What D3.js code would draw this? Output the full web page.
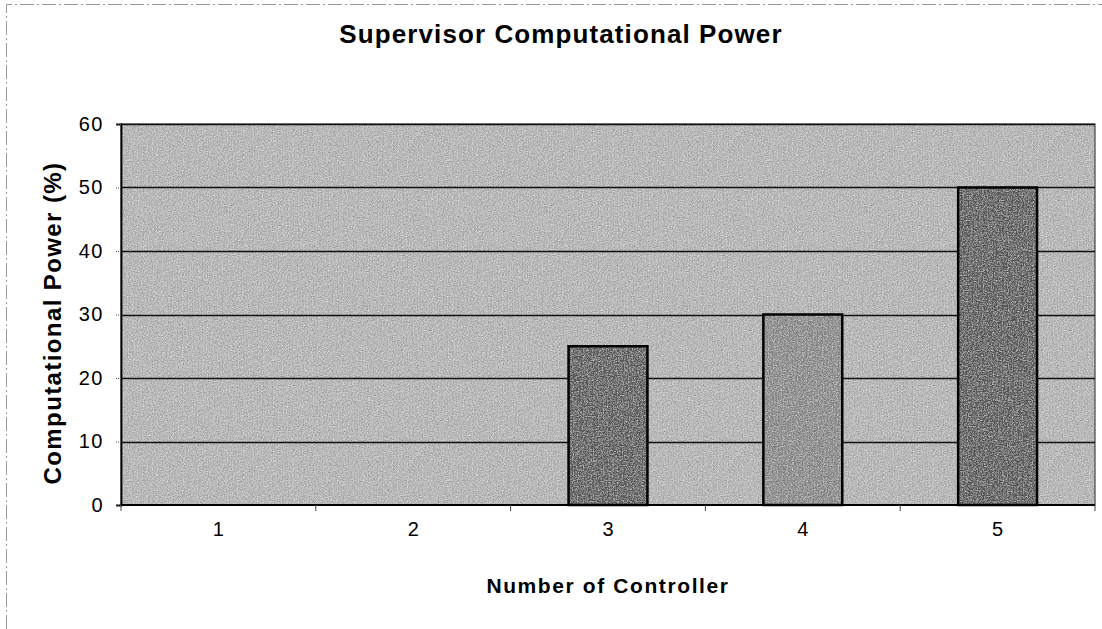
<!DOCTYPE html>
<html>
<head>
<meta charset="utf-8">
<script src="https://cdn.jsdelivr.net/npm/d3@7"></script>
<style>
  body { margin: 0; background: #fff; }
  text { font-family: "Liberation Sans", Arial, sans-serif; fill: #000; }
</style>
</head>
<body>
<div id="chart"></div>
<script>
// chart data
var categories = ["1", "2", "3", "4", "5"];
var powerValues = [0, 0, 25, 30, 50];
var yTicks = [0, 10, 20, 30, 40, 50, 60];

var titleText = "Supervisor Computational Power";
var xTitle = "Number of Controller";
var yTitle = "Computational Power (%)";

var barFills = ["#5e5e5e", "#5e5e5e", "#575757", "#858585", "#555555"];

var width = 1102, height = 629;
var margin = {top: 124, right: 7, bottom: 124, left: 121};
var innerW = width - margin.left - margin.right,
    innerH = height - margin.top - margin.bottom;

var svg = d3.select("#chart")
    .append("svg")
    .attr("width", width)
    .attr("height", height);

// grainy scan look
var defs = svg.append("defs");
var grain = defs.append("filter").attr("id", "grain")
    .attr("x", 0).attr("y", 0).attr("width", 1).attr("height", 1);
grain.append("feTurbulence")
    .attr("type", "fractalNoise")
    .attr("baseFrequency", 0.8)
    .attr("numOctaves", 2)
    .attr("seed", 3)
    .attr("result", "noise");
grain.append("feColorMatrix")
    .attr("in", "noise")
    .attr("type", "matrix")
    .attr("values", "0.33 0.33 0.33 0 0.05  0.33 0.33 0.33 0 0.05  0.33 0.33 0.33 0 0.05  0 0 0 0 1")
    .attr("result", "gray");
grain.append("feBlend")
    .attr("in", "SourceGraphic")
    .attr("in2", "gray")
    .attr("mode", "overlay")
    .attr("result", "mix");
grain.append("feComposite")
    .attr("in", "mix")
    .attr("in2", "SourceGraphic")
    .attr("operator", "in");

// faint page frame
svg.append("path")
    .attr("d", "M6.5,629 V4.5 H1102")
    .attr("fill", "none")
    .attr("stroke", "#999")
    .attr("stroke-width", 1)
    .attr("stroke-dasharray", "14,3,2,3");

var g = svg.append("g")
    .attr("transform", "translate(" + margin.left + "," + margin.top + ")");

var x = d3.scaleBand()
    .domain(categories)
    .range([0, innerW])
    .paddingInner(0.595)
    .paddingOuter(0.2975);

var xEdge = d3.scaleBand().domain(categories).range([0, innerW]);

var y = d3.scaleLinear()
    .domain([0, 60])
    .range([innerH, 0]);

// plot area background
g.append("rect")
    .attr("width", innerW)
    .attr("height", innerH)
    .attr("fill", "#b0b0b0")
    .attr("filter", "url(#grain)");

g.append("rect")
    .attr("width", innerW)
    .attr("height", innerH)
    .attr("fill", "none")
    .attr("stroke", "#444")
    .attr("stroke-width", 1.2);

// gridlines
g.append("g")
    .selectAll("line")
    .data(yTicks.filter(function(d) { return d > 0; }))
    .enter()
    .append("line")
    .attr("x1", 0)
    .attr("x2", innerW)
    .attr("y1", function(d) { return Math.round(y(d)) + 0.5; })
    .attr("y2", function(d) { return Math.round(y(d)) + 0.5; })
    .attr("stroke", "#111")
    .attr("stroke-width", 1.3);

// bars
var bars = categories.map(function(c, i) {
    return {cat: c, value: powerValues[i], fill: barFills[i]};
}).filter(function(d) { return d.value > 0; });

g.append("g")
    .selectAll("rect")
    .data(bars)
    .enter()
    .append("rect")
    .attr("x", function(d) { return x(d.cat); })
    .attr("y", function(d) { return y(d.value); })
    .attr("width", x.bandwidth())
    .attr("height", function(d) { return innerH - y(d.value); })
    .attr("fill", function(d) { return d.fill; })
    .attr("filter", "url(#grain)");

g.append("g")
    .selectAll("rect")
    .data(bars)
    .enter()
    .append("rect")
    .attr("x", function(d) { return x(d.cat); })
    .attr("y", function(d) { return y(d.value); })
    .attr("width", x.bandwidth())
    .attr("height", function(d) { return innerH - y(d.value); })
    .attr("fill", "none")
    .attr("stroke", "#000")
    .attr("stroke-width", 2.5);

// y axis
var yAxis = g.append("g")
    .call(d3.axisLeft(y).tickValues(yTicks).tickSize(5).tickPadding(12));
yAxis.select(".domain").attr("stroke", "#000").attr("stroke-width", 1.8);
yAxis.selectAll(".tick line").attr("stroke", "#555").attr("stroke-dasharray", "1,1");
yAxis.selectAll("text")
    .attr("font-size", 20)
    .attr("letter-spacing", 1.5)
    .attr("font-family", "Liberation Sans, Arial, sans-serif");

// x axis
var xAxis = g.append("g")
    .attr("transform", "translate(0," + innerH + ")");
xAxis.append("line")
    .attr("x1", 0).attr("x2", innerW)
    .attr("stroke", "#000").attr("stroke-width", 2.2);
xAxis.selectAll(".edge")
    .data(categories.concat(["end"]))
    .enter()
    .append("line")
    .attr("class", "edge")
    .attr("x1", function(d, i) { return i < categories.length ? xEdge(d) : innerW; })
    .attr("x2", function(d, i) { return i < categories.length ? xEdge(d) : innerW; })
    .attr("y1", 0).attr("y2", 6)
    .attr("stroke", "#444");
xAxis.selectAll(".lab")
    .data(categories)
    .enter()
    .append("text")
    .attr("class", "lab")
    .attr("x", function(d) { return xEdge(d) + xEdge.bandwidth() / 2; })
    .attr("y", 31)
    .attr("text-anchor", "middle")
    .attr("font-size", 20)
    .text(function(d) { return d; });

// titles
svg.append("text")
    .attr("x", 561)
    .attr("y", 43)
    .attr("text-anchor", "middle")
    .attr("font-size", 26)
    .attr("letter-spacing", 1.1)
    .attr("font-weight", "bold")
    .text(titleText);

svg.append("text")
    .attr("x", 608)
    .attr("y", 593)
    .attr("text-anchor", "middle")
    .attr("font-size", 21)
    .attr("letter-spacing", 1.6)
    .attr("font-weight", "bold")
    .text(xTitle);

svg.append("text")
    .attr("transform", "translate(61,323) rotate(-90)")
    .attr("text-anchor", "middle")
    .attr("font-size", 24)
    .attr("letter-spacing", 1.4)
    .attr("font-weight", "bold")
    .text(yTitle);
</script>
</body>
</html>
